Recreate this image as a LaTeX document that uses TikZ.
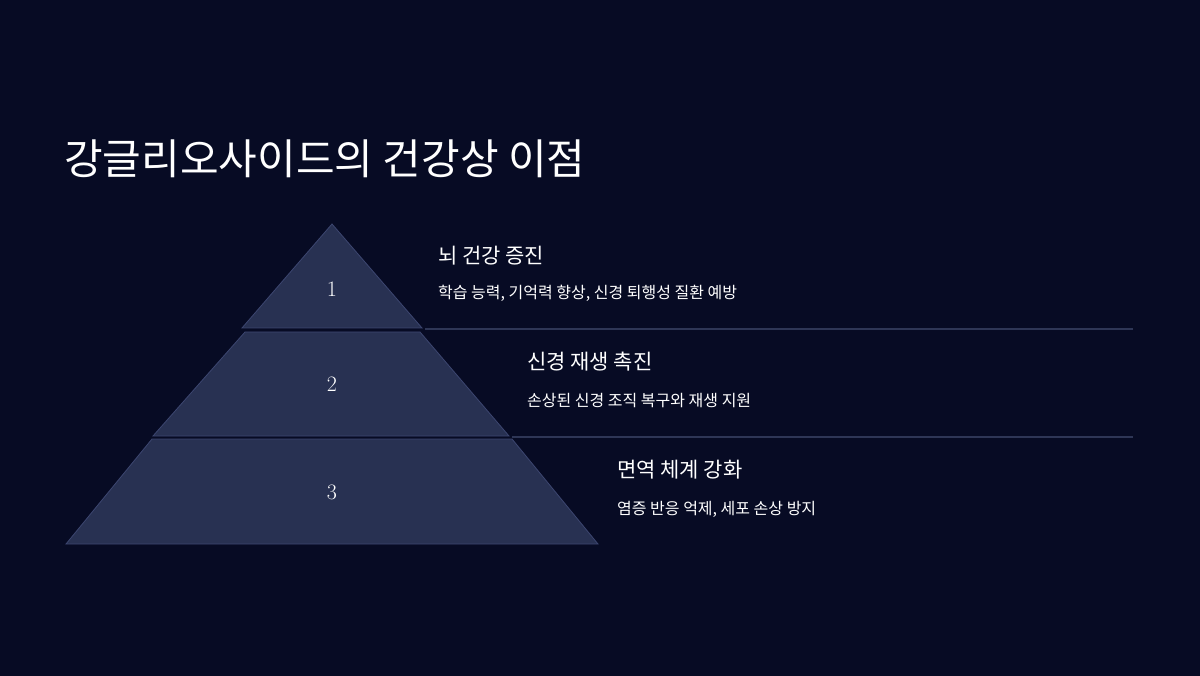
\documentclass[tikz,border=0pt]{standalone}
\usepackage{fontspec}
\newfontfamily\cjk{Noto Sans CJK KR}
\definecolor{bg}{HTML}{070B24}
\definecolor{tier}{HTML}{283152}
\definecolor{edge}{HTML}{3C4670}
\definecolor{sep}{HTML}{2E3656}
\begin{document}
\begin{tikzpicture}[x=1pt,y=-1pt,
  tierbox/.style={fill=tier,draw=edge,line width=0.8pt},
  num/.style={text=white,font=\fontsize{22}{22}\selectfont},
  head/.style={anchor=west,text=white,font=\cjk\fontsize{21}{21}\selectfont,inner sep=0},
  sub/.style={anchor=west,text=white,font=\cjk\fontsize{16}{16}\selectfont,inner sep=0}]
\fill[bg] (0,0) rectangle (1200,676);
\useasboundingbox (0,0) rectangle (1200,676);
\node[anchor=base west,text=white,font=\cjk\fontsize{42}{42}\selectfont,inner sep=0] (title) at (64,175) {강글리오사이드의 건강상 이점};
\draw[tierbox] (332,224) -- (422,328) -- (242,328) -- cycle;
\draw[tierbox] (245,332) -- (420,332) -- (509,436) -- (153,436) -- cycle;
\draw[tierbox] (152,439) -- (512,439) -- (598,544) -- (66,544) -- cycle;
\node[num] (n1) at (332,289) {1};
\node[num] (n2) at (332,384) {2};
\node[num] (n3) at (332,492) {3};
\coordinate (l1a) at (425,329); \coordinate (l1b) at (1133,329);
\coordinate (l2a) at (512,437); \coordinate (l2b) at (1133,437);
\draw[sep,line width=1.2pt] (l1a) -- (l1b);
\draw[sep,line width=1.2pt] (l2a) -- (l2b);
\node[head] (h1) at (438,256) {뇌 건강 증진};
\node[sub] (s1) at (438,293) {학습 능력, 기억력 향상, 신경 퇴행성 질환 예방};
\node[head] (h2) at (527,362) {신경 재생 촉진};
\node[sub] (s2) at (527,401) {손상된 신경 조직 복구와 재생 지원};
\node[head] (h3) at (617,470) {면역 체계 강화};
\node[sub] (s3) at (617,509) {염증 반응 억제, 세포 손상 방지};
\end{tikzpicture}
\end{document}
